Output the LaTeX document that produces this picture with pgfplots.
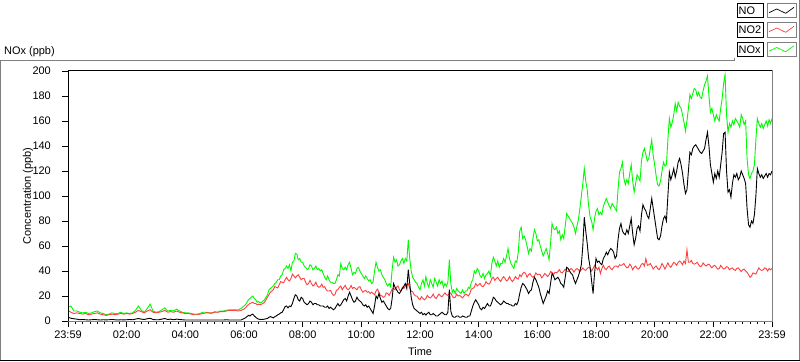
\documentclass[border=0pt]{standalone}
\usepackage{fontspec}
\setmainfont{Liberation Sans}
\usepackage{pgfplots}
\pgfplotsset{compat=1.18}
\usepackage{pgfplotstable}
\definecolor{noxg}{RGB}{0,250,0}
\definecolor{no2r}{RGB}{255,64,64}
\definecolor{frameg}{RGB}{128,128,128}

\pgfplotstableread{
h NO NO2 NOx
0.0 3.0 8.5 11
0.1 2.2 7.0 12
0.2 1.8 6.0 8
0.3 1.5 6.5 8
0.4 1.0 6.0 7
0.5 1.2 5.5 6.5
0.6 1.0 6.0 7
0.7 0.8 5.0 6
0.8 1.0 5.5 6.5
0.9 1.2 6.0 7.5
1.0 1.0 6.5 8
1.1 0.8 5.5 6.5
1.2 1.0 5.0 6
1.3 0.9 4.5 5
1.4 1.0 5.0 5.5
1.5 1.2 5.5 6.5
1.6 1.0 5.0 6
1.7 0.8 5.5 6
1.8 1.0 6.0 7
1.9 0.9 5.5 6
2.0 1.0 6.0 6.5
2.1 1.2 5.5 6
2.2 1.0 6.0 6.5
2.3 1.5 7.0 8.5
2.4 2.0 8.5 12
2.5 1.5 7.5 8.5
2.6 1.2 6.5 7
2.7 1.8 8.0 10
2.8 2.2 9.0 13.5
2.9 1.2 7.0 8
3.0 1.0 6.5 7
3.1 1.0 7.0 7.5
3.2 1.5 7.5 9
3.3 2.0 8.5 10.5
3.4 1.2 7.0 8
3.5 1.5 7.5 8.5
3.6 1.0 7.0 8
3.7 1.5 8.0 9.5
3.8 1.2 7.0 8
3.9 1.0 6.5 7
4.0 0.8 6.0 6.5
4.1 0.8 6.0 6.5
4.2 0.8 5.5 6
4.3 0.8 5.0 5.5
4.4 0.8 5.0 5.5
4.5 0.8 5.5 6
4.6 0.8 6.0 7
4.7 0.8 6.5 7
4.8 0.8 6.5 6.5
4.9 0.8 6.5 6
5.0 0.8 7.0 7.5
5.1 0.8 7.0 7
5.2 0.8 7.5 8
5.3 0.8 7.5 8
5.4 1.0 8.0 8.5
5.5 0.8 8.5 9
5.6 0.8 8.5 9
5.7 0.8 8.5 9
5.8 0.8 8.0 9
5.9 0.8 8.5 10
6.0 2.0 9.5 12
6.05 2.5 10.5 13
6.1 3.5 12 15
6.15 4.5 13 17
6.2 4.0 14 18
6.25 5.0 14.5 19
6.3 5.5 15 20
6.35 4.0 14 18
6.4 3.0 14 17
6.45 2.0 13 15
6.5 1.5 13.5 15.5
6.55 1.2 13 14.5
6.6 1.2 13.5 15
6.65 1.3 14 16
6.7 1.5 15 17
6.75 1.8 17 19
6.8 2.0 19 21
6.85 3.0 21 25
6.9 3.5 23 26
6.95 3.0 24 27
7.0 2.5 25 28
7.05 3.5 27.5 30
7.1 4.0 27 31
7.15 5.0 26.5 33
7.2 5.5 29 33
7.25 6.5 31.5 36
7.3 7.0 31 37
7.35 9.0 30.5 41
7.4 11.5 33 42
7.45 12 35 44
7.5 10.5 33 42
7.55 12 32 45
7.6 11.5 34 40
7.65 14 37.5 47
7.7 18 36 48
7.75 21 34.5 54
7.8 20 36 53.6
7.85 17 37 49
7.9 16 35 50
7.95 19 33 47
8.0 18 34 47
8.05 15 34 44
8.1 14 31 43
8.15 13 29 41
8.2 14 30 42
8.25 16 32.5 45
8.3 15 30 44
8.35 13 28 41
8.4 14 29 42
8.45 14 31 44
8.5 13 28 41
8.55 13 27 42
8.6 12 27.5 40
8.65 12 29.5 41
8.7 12 27 38
8.75 11 27.5 35
8.8 11 25 33
8.85 12 24 36
8.9 10 24 33
8.95 11 24.5 31
9.0 10 22 31
9.05 9 20.5 30
9.1 10 21 30
9.15 12 24.5 33
9.2 14 25 37
9.25 12 27 36
9.3 13 28 46
9.35 15 25 42
9.4 17 27 41
9.45 18 28.5 43
9.5 16 26 41
9.55 20 25 45
9.6 23 26 47
9.65 20 28.5 42
9.7 17 26 37
9.75 15 27 39
9.8 16 26 38
9.85 19 25 42
9.9 17 27 43
9.95 16 27.5 40
10.0 15 25 38
10.05 13 23 36
10.1 12 24 34
10.15 13 24.5 36
10.2 11 23 34
10.25 12 23.5 32
10.3 10 22 33
10.35 8 23 30
10.4 6 22 31
10.45 12 21 40
10.5 20 24 47
10.55 18 25.5 43
10.6 22 23 40
10.65 18 20.5 41
10.7 15 20 37
10.75 16 19 35
10.8 14 19.5 33
10.85 12 22.5 30
10.9 10 22 28
10.95 9 20.5 30
11.0 10 23 27.5
11.05 18 25.5 41
11.1 30 26 51
11.15 27 25 47
11.2 25 27 49
11.25 23 28 44
11.3 22 25 45
11.35 24 24 48
11.4 26 27 50
11.45 28 26 46
11.5 30 28 50
11.55 26 29 48
11.6 41 30 65
11.65 30 26 50
11.7 19 24 40
11.75 13 23.5 35
11.8 10 21 33
11.85 9 20 31
11.9 8 20 30
11.95 7 18 27
12.0 6 17 25
12.05 7 19.5 30
12.1 5 18 33
12.15 6 17 28
12.2 4.8 18 35.5
12.25 6 20.5 30
12.3 7 19 27
12.35 5 18.5 33
12.4 5 19.5 30
12.45 6 21.5 27
12.5 5 19 34
12.55 4 18 31
12.6 4 20 28
12.65 5 21.5 33
12.7 6 20 30
12.75 7 19.5 32
12.8 6 21 27
12.85 5 22.5 30
12.9 5 21 28
12.95 7 20.5 31
13.0 25 22 49
13.05 8 22.5 30
13.1 4 20 23
13.15 3 18.5 25
13.2 3 19 22
13.25 4 21.5 26
13.3 4 20 24
13.35 3 20.5 23
13.4 3 19.5 22
13.45 4 18.5 25
13.5 3.5 20 22
13.55 3 21.5 24
13.6 3 21 24
13.65 4 20 27
13.7 4 22 26
13.75 8 25.5 31
13.8 12 26 33
13.85 15 27 40
13.9 17 30 38
13.95 15 28 42
14.0 13 29 40
14.05 10 30 36
14.1 9 28 35
14.15 11 27.5 38
14.2 10 29 34
14.25 12 31.5 37
14.3 14 30 38
14.35 12 29.5 40
14.4 12 31 36
14.45 15 34 46
14.5 19 35 51
14.55 18 32.5 48
14.6 16 34 44
14.65 15 35 48
14.7 14 33 43
14.75 13 31.5 46
14.8 14 34 46
14.85 16 35.5 50
14.9 15 34 47
14.95 14 32 52
15.0 14 33 58
15.05 13 35.5 50
15.1 13 33 46
15.15 12 31.5 44
15.2 12 33 42
15.25 14 35.5 48
15.3 13 34 47
15.35 16 33.5 55
15.4 22 37 72
15.45 27 35.5 75
15.5 30 38 66
15.55 29 39 68
15.6 27 38 65
15.65 25 35 60
15.7 22 37 54
15.75 24 38 58
15.8 25 36 56
15.85 31 35 66
15.9 35 36 73
15.95 33 38.5 70
16.0 30 37 64
16.05 27 37.5 65
16.1 22 37 60
16.15 18 34.5 56
16.2 14 36 52
16.25 17 38 55
16.3 20 37 58
16.35 24 35.5 54
16.4 22 37 49
16.45 30 39.5 62
16.5 38 39 78
16.55 36 37 74
16.6 33 39 73
16.65 34 38.5 75
16.7 35 39.5 70
16.75 33 41 72
16.8 30 39 65
16.85 29 38.5 69
16.9 27 40 66
16.95 35 41.5 76
17.0 43 40 86
17.05 42 39.5 84
17.1 40 41 82
17.15 38 42 80
17.2 37 41 78
17.25 33 39 75
17.3 30 41 70
17.35 33 42 76
17.4 36 41 81
17.45 40 39.5 90
17.5 45 41 100
17.55 60 42.5 110
17.6 83 41 122
17.65 72 40.5 112
17.7 62 42 105
17.75 50 43 92
17.8 43 42 83
17.85 32 40 80
17.9 22 42 73
17.95 38 44.5 82
18.0 50 43 88
18.05 47 41 90
18.1 48 43 85
18.15 46 38 87
18.2 45 42 85
18.25 50 44.5 92
18.3 52 42 95
18.35 55 41 98
18.4 53 43 95
18.45 56 44 92
18.5 58 42 90
18.55 57 41 94
18.6 55 43 92
18.65 50 44 90
18.7 52 44 88
18.75 65 43 105
18.8 74 45 119
18.85 78 44.5 122
18.9 72 45 127
18.95 70 46 114
19.0 69 44 109
19.05 73 42.5 113
19.1 70 43 110
19.15 76 45.5 118
19.2 82 44 125
19.25 70 41 112
19.3 61 43 103
19.35 66 44 110
19.4 74 42 117
19.45 76 41.5 115
19.5 72 43 112
19.55 85 45.5 128
19.6 93 46 135
19.65 90 44 138
19.7 88 50 133
19.75 84 44.5 128
19.8 82 45 130
19.85 90 46 138
19.9 98 44 145
19.95 90 41.5 132
20.0 82 43 125
20.05 74 44 116
20.1 66 42 109
20.15 65 41 108
20.2 68 43 112
20.25 76 46 120
20.3 82 44 127
20.35 84 41.5 124
20.4 80 44 125
20.45 100 46.5 145
20.5 119 44 162
20.55 113 43 155
20.6 117 45 159
20.65 122 47 165
20.7 115 46 174
20.75 120 44.5 168
20.8 127 47 175
20.85 130 48 172
20.9 125 47 170
20.95 118 45 165
21.0 109 48 159
21.05 102 46 152
21.1 105 57 160
21.15 120 47 170
21.2 135 47 181
21.25 133 48.5 178
21.3 138 46 182
21.35 140 45.5 186
21.4 141 46 185
21.45 139 47 180
21.5 137 45 183
21.55 135 43.5 179
21.6 134 44 178
21.65 136 46.5 184
21.7 138 45 189
21.75 145 44 192
21.8 151 45 196
21.85 140 45.5 180
21.9 125 44 167
21.95 118 42.5 170
22.0 111 44 165
22.05 118 44.5 160
22.1 114 43 165
22.15 120 41.5 162
22.2 115 42 160
22.25 125 44.5 170
22.3 135 43 178
22.35 150 41.5 190
22.4 151 42 197
22.45 120 43.5 165
22.5 103 43 151
22.55 105 41 158
22.6 99 42 155
22.65 110 42.5 160
22.7 117 41 157
22.75 115 40.5 162
22.8 118 42 160
22.85 113 42.5 158
22.9 115 41 155
22.95 120 39.5 165
23.0 117 41 162
23.05 114 41.5 157
23.1 110 40 160
23.15 90 39 130
23.2 77 37 117
23.25 75 35 114
23.3 80 36 118
23.35 78 38.5 120
23.4 85 38 125
23.45 100 37.5 145
23.5 122 40 162
23.55 118 42.5 158
23.6 115 41 155
23.65 117 40.5 158
23.7 114 41 154
23.75 116 42.5 157
23.8 118 42 160
23.85 115 40 156
23.9 118 42 161
23.95 117 41 158
24.0 120 42 162
}\data

\begin{document}
\begin{tikzpicture}[x=1bp,y=1bp,font=\fontsize{11}{13}\selectfont]
\useasboundingbox (0,0) rectangle (800,361);
\fill[white] (0,0) rectangle (800,361);
\draw[frameg,line width=1bp] (0.5,0) -- (0.5,300.5) -- (734.5,300.5) -- (734.5,303);
\draw[frameg,line width=1bp] (799.5,0) -- (799.5,361);
\draw[black,line width=1bp] (0,0.5) -- (800,0.5);
\node[anchor=west,inner sep=0pt] at (4,309) {NOx (ppb)};
\begin{axis}[at={(68bp,40bp)}, anchor=south west, scale only axis,
  width=704bp, height=250bp,
  xmin=0, xmax=24, ymin=0, ymax=200,
  xtick={0,2,...,24},
  xticklabels={23:59,02:00,04:00,06:00,08:00,10:00,12:00,14:00,16:00,18:00,20:00,22:00,23:59},
  minor x tick num=7,
  ytick={0,20,...,200},
  xtick pos=left, ytick pos=left,
  tick align=outside,
  major tick length=6bp, minor tick length=3bp,
  tick style={black, line width=0.8bp},
  axis line style={frameg, line width=1bp},
  /pgf/number format/assume math mode=true,
  xticklabel style={anchor=north, inner sep=0pt, yshift=-4bp},
  yticklabel style={anchor=east, inner sep=0pt, xshift=-11bp},
  every axis y label/.style={at={(axis description cs:-0.0568,0.5)}, rotate=90, anchor=center},
  every axis x label/.style={at={(axis description cs:0.5,-0.124)}, anchor=center},
  xlabel={Time}, ylabel={Concentration (ppb)},
]
\addplot[noxg, line width=0.9bp] table[x=h,y=NOx]{\data};
\addplot[no2r, line width=0.9bp] table[x=h,y=NO2]{\data};
\addplot[black, line width=0.9bp] table[x=h,y=NO]{\data};
\draw[black, line width=1bp] (rel axis cs:0,0) -- (rel axis cs:0,1) -- (rel axis cs:1,1);
\end{axis}
% legend
\foreach \c/\lab/\col in {350/NO/black, 331/NO2/no2r, 311.5/NOx/noxg}{
  \draw[black, line width=1bp] (737,\c-7) rectangle (763,\c+7);
  \node[anchor=west, inner sep=0pt] at (738.5,\c) {\lab};
  \draw[frameg, line width=1bp] (767,\c-7) rectangle (796,\c+7);
  \draw[\col, line width=0.7bp] (769,\c-1.7) -- (776.7,\c+2) -- (785.7,\c-2.3) -- (794,\c+3.7);
}
\end{tikzpicture}
\end{document}
